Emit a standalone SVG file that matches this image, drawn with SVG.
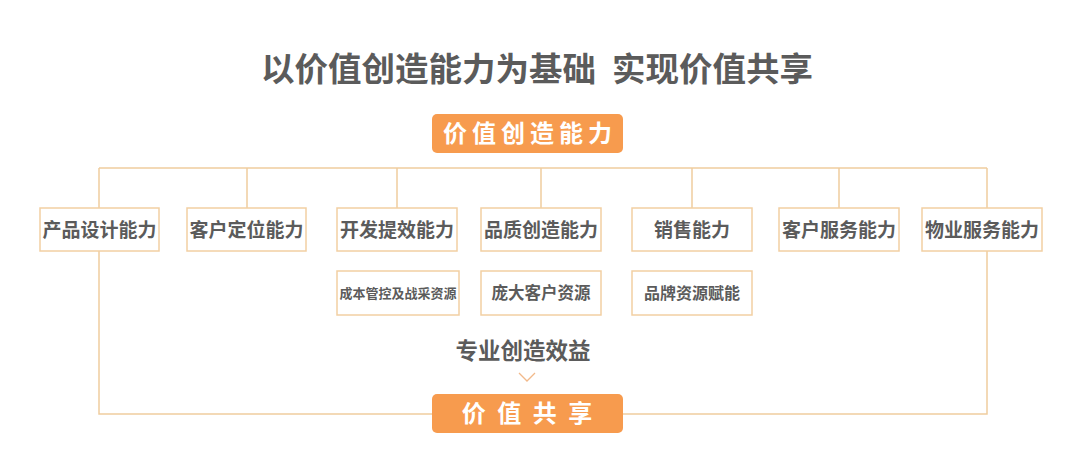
<svg xmlns="http://www.w3.org/2000/svg" width="1080" height="470" viewBox="0 0 1080 470">
<style>
.t{font-family:"Noto Sans CJK SC","Noto Sans",sans-serif;fill:#5b5b5b;font-weight:bold;text-anchor:middle}
.box{fill:#fff;stroke:#F2CFA3;stroke-width:1.5}
.pill{fill:#F79B4E}
.pt{font-family:"Noto Sans CJK SC","Noto Sans",sans-serif;fill:#fff;font-weight:bold;text-anchor:middle;font-size:24px}
.ln{fill:none;stroke:#F0CD9F;stroke-width:1.5}
.m{font-size:19px}
</style>
<rect width="1080" height="470" fill="#fff"/>
<text id="title" class="t" y="81" font-size="33.5" style="text-anchor:start"><tspan x="261">以价值创造能力为基础</tspan><tspan x="612">实现价值共享</tspan></text>
<g id="connectors">
<path class="ln" d="M99,168 H987 M99,168 V208 M247,168 V208 M397,168 V208 M541,168 V208 M692,168 V208 M839,168 V208 M987,168 V208"/>
<path class="ln" d="M99,251 V414 H432 M623,414 H987 V251"/>
<path d="M519,373 L527,381 L535,373" fill="none" stroke="#F2B98A" stroke-width="1.3"/>
</g>
<g id="top">
<rect class="pill" x="432" y="114" width="191" height="39" rx="5"/>
<text class="pt" x="530" y="142" letter-spacing="5">价值创造能力</text>
</g>
<g id="n1"><rect class="box" x="40" y="208" width="119" height="43"/><text class="t m" x="99.5" y="237">产品设计能力</text></g>
<g id="n2"><rect class="box" x="187" y="208" width="119" height="43"/><text class="t m" x="246.5" y="237">客户定位能力</text></g>
<g id="n3"><rect class="box" x="337" y="208" width="120" height="43"/><text class="t m" x="397" y="237">开发提效能力</text></g>
<g id="n4"><rect class="box" x="481" y="208" width="120" height="43"/><text class="t m" x="541" y="237">品质创造能力</text></g>
<g id="n5"><rect class="box" x="632" y="208" width="120" height="43"/><text class="t m" x="692" y="237">销售能力</text></g>
<g id="n6"><rect class="box" x="779" y="208" width="120" height="43"/><text class="t m" x="839" y="237">客户服务能力</text></g>
<g id="n7"><rect class="box" x="922" y="208" width="120" height="43"/><text class="t m" x="982" y="237">物业服务能力</text></g>
<g id="s1"><rect class="box" x="337" y="271" width="122" height="44"/><text class="t" x="398" y="298" font-size="13">成本管控及战采资源</text></g>
<g id="s2"><rect class="box" x="481" y="271" width="120" height="44"/><text class="t" x="541" y="299" font-size="16.5">庞大客户资源</text></g>
<g id="s3"><rect class="box" x="632" y="271" width="120" height="44"/><text class="t" x="692" y="299" font-size="16">品牌资源赋能</text></g>
<text id="benefit" class="t" x="523" y="359" font-size="22.5">专业创造效益</text>
<g id="bottom">
<rect class="pill" x="432" y="394" width="191" height="39" rx="5"/>
<text class="pt" x="528.5" y="422" letter-spacing="3">价 值 共 享</text>
</g>
</svg>
